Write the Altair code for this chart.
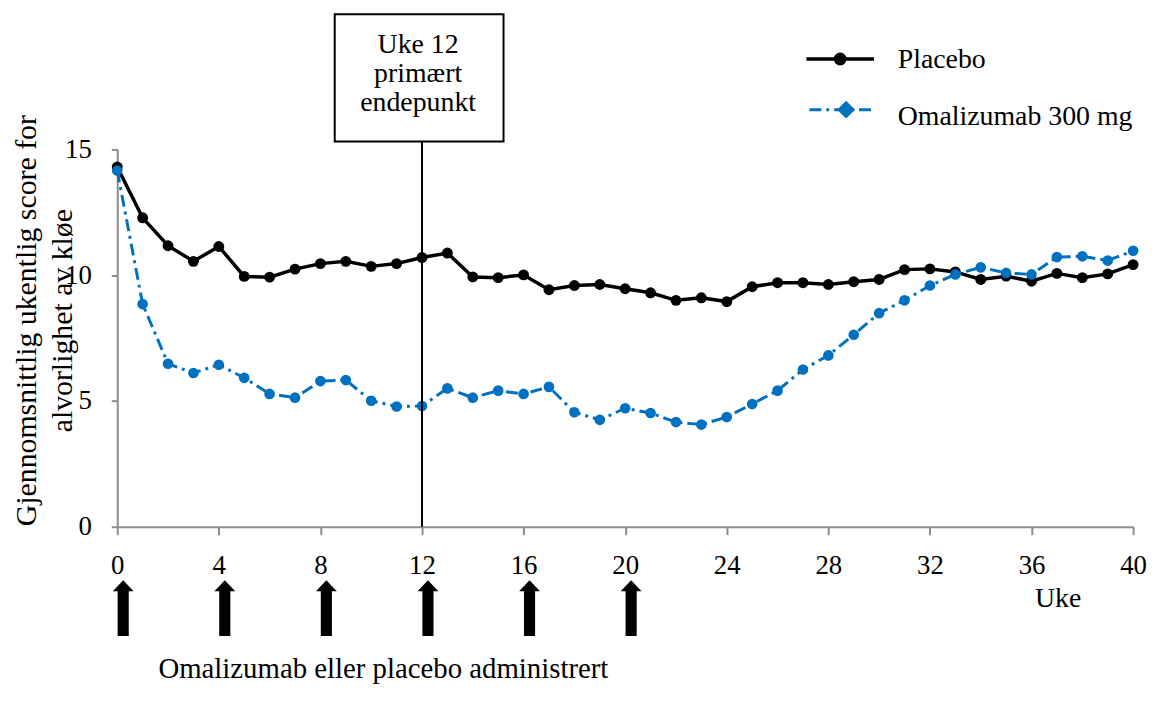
import altair as alt
import pandas as pd

FONT = "Liberation Serif"
BLUE = "#0070C0"
GRAY = "#8c8c8c"

weeks = list(range(0, 41))
placebo = [14.3, 12.28, 11.17, 10.55, 11.14, 9.95, 9.92, 10.24, 10.46, 10.55,
           10.35, 10.46, 10.7, 10.88, 9.93, 9.9, 10.01, 9.42, 9.59, 9.63,
           9.46, 9.3, 9.0, 9.1, 8.95, 9.54, 9.7, 9.7, 9.63, 9.74,
           9.83, 10.22, 10.25, 10.13, 9.83, 9.96, 9.76, 10.07, 9.9, 10.05, 10.42]
omalizumab = [14.16, 8.85, 6.48, 6.11, 6.44, 5.92, 5.28, 5.13, 5.79, 5.83,
              5.01, 4.78, 4.8, 5.5, 5.13, 5.41, 5.28, 5.56, 4.55, 4.25,
              4.71, 4.52, 4.16, 4.06, 4.36, 4.88, 5.41, 6.25, 6.81, 7.63,
              8.49, 9.0, 9.59, 10.03, 10.31, 10.09, 10.03, 10.72, 10.75, 10.58, 10.97]
series_names = ["Placebo", "Omalizumab 300 mg"]
x_ticks = list(range(0, 41, 4))
y_ticks = [0, 5, 10, 15]
dose_weeks = [0, 4, 8, 12, 16, 20]
endpoint_week = [12]
endpoint_text = ["Uke 12", "primært", "endepunkt"]
x_title = "Uke"
y_title = ["Gjennomsnittlig ukentlig score for", "alvorlighet av kløe"]
bottom_note = "Omalizumab eller placebo administrert"

df_p = pd.DataFrame({"week": weeks, "value": placebo})
df_o = pd.DataFrame({"week": weeks, "value": omalizumab})

x_enc = alt.X(
    "week:Q",
    scale=alt.Scale(domain=[0, 40], nice=False, zero=False),
    axis=alt.Axis(
        values=x_ticks, grid=False, format="d",
        domainColor=GRAY, domainWidth=2, tickColor=GRAY, tickWidth=2, tickSize=8,
        labelFont=FONT, labelFontSize=27, labelColor="black", labelPadding=18,
        labelFlush=False, labelOverlap=False,
        title=x_title, titleFont=FONT, titleFontSize=28, titleFontWeight="normal",
        titleColor="black", titleX=947, titleY=72, titleAlign="center",
        titleBaseline="middle", titleAnchor="start",
    ),
)
y_enc = alt.Y(
    "value:Q",
    scale=alt.Scale(domain=[0, 15], nice=False),
    axis=alt.Axis(
        values=y_ticks, grid=False,
        domainColor=GRAY, domainWidth=2, tickColor=GRAY, tickWidth=2, tickSize=6,
        labelFont=FONT, labelFontSize=27, labelColor="black", labelPadding=20,
        labelFlush=False, labelOverlap=False,
        title=y_title, titleFont=FONT, titleFontSize=30, titleFontWeight="normal",
        titleColor="black", titleAngle=270, titleX=-91, titleY=172,
        titleAlign="center", titleBaseline="middle", titleLineHeight=36,
        titleAnchor="start",
    ),
)

line_p = alt.Chart(df_p).mark_line(color="black", strokeWidth=3.5).encode(x=x_enc, y=y_enc)
pts_p = alt.Chart(df_p).mark_point(shape="circle", filled=True, size=120, color="black", opacity=1).encode(x=x_enc, y=y_enc)
line_o = alt.Chart(df_o).mark_line(color=BLUE, strokeWidth=3, strokeDash=[12, 5, 3, 5]).encode(x=x_enc, y=y_enc)
pts_o = alt.Chart(df_o).mark_point(shape="circle", filled=True, size=115, color=BLUE, opacity=1).encode(x=x_enc, y=y_enc)

# endpoint annotation
df_end = pd.DataFrame({"week": endpoint_week, "txt": ["\n".join(endpoint_text)]})
rule_end = alt.Chart(df_end).mark_rule(color="black", strokeWidth=2).encode(
    x=x_enc, y=alt.value(-8), y2=alt.value(380))
box = alt.Chart(df_end).mark_rect(fill="white", stroke="black", strokeWidth=2).encode(
    x=alt.value(219), x2=alt.value(389), y=alt.value(-136), y2=alt.value(-8))
box_text = alt.Chart(df_end).mark_text(
    font=FONT, fontSize=28, color="black", align="center", baseline="alphabetic",
    lineBreak="\n", lineHeight=29).encode(
    x=alt.value(303), y=alt.value(-97), text="txt:N")

# dosing arrows
ARROW = "M -0.2 1 L 0.2 1 L 0.2 -0.61 L 0.375 -0.61 L 0 -1 L -0.375 -0.61 L -0.2 -0.61 Z"
df_arr = pd.DataFrame({"week": dose_weeks})
arrows = alt.Chart(df_arr).mark_point(
    shape=ARROW, size=3136, filled=True, color="black", opacity=1, strokeWidth=0, xOffset=6
).encode(x=x_enc, y=alt.value(462))

note = alt.Chart(pd.DataFrame({"t": [bottom_note]})).mark_text(
    font=FONT, fontSize=29, color="black", align="center", baseline="alphabetic").encode(
    x=alt.value(268), y=alt.value(532), text="t:N")

# legend
df_lp = pd.DataFrame({"name": [series_names[0]]})
df_lo = pd.DataFrame({"name": [series_names[1]]})
leg_line_p = alt.Chart(df_lp).mark_rule(color="black", strokeWidth=3.5).encode(
    x=alt.value(694), x2=alt.value(762), y=alt.value(-91))
leg_pt_p = alt.Chart(df_lp).mark_point(shape="circle", filled=True, size=170, color="black", opacity=1).encode(
    x=alt.value(728), y=alt.value(-91))
leg_txt_p = alt.Chart(df_lp).mark_text(font=FONT, fontSize=28, color="black", align="left", baseline="alphabetic").encode(
    x=alt.value(786), y=alt.value(-82), text="name:N")
leg_line_o = alt.Chart(df_lo).mark_rule(color=BLUE, strokeWidth=3, strokeDash=[12, 5, 3, 5]).encode(
    x=alt.value(697), x2=alt.value(759), y=alt.value(-40))
leg_pt_o = alt.Chart(df_lo).mark_point(shape="diamond", filled=True, size=324, color=BLUE, opacity=1).encode(
    x=alt.value(734), y=alt.value(-40))
leg_txt_o = alt.Chart(df_lo).mark_text(font=FONT, fontSize=28, color="black", align="left", baseline="alphabetic").encode(
    x=alt.value(786), y=alt.value(-25), text="name:N")

chart = alt.layer(
    line_p, pts_p, line_o, pts_o, rule_end, box, box_text, arrows, note,
    leg_line_p, leg_pt_p, leg_txt_p, leg_line_o, leg_pt_o, leg_txt_o,
).properties(
    width=1023, height=380,
    autosize=alt.AutoSizeParams(type="none"),
    padding={"left": 110, "top": 140, "right": 16, "bottom": 158},
    background="white",
).configure_view(stroke=None)

chart.save("out.html", embed_options={"renderer": "svg", "actions": False})
